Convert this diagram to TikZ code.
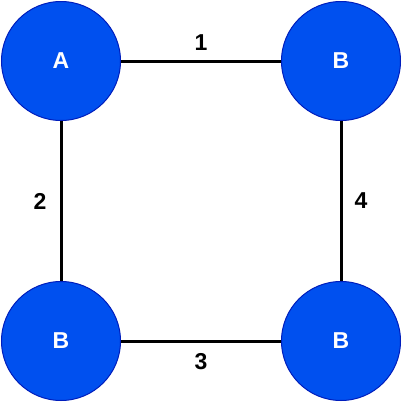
\documentclass[tikz,border=0pt]{standalone}
\usepackage{fontspec}
\setmainfont{Liberation Sans}
\definecolor{nodefill}{HTML}{0050EF}
\definecolor{nodestroke}{HTML}{001DBC}
\begin{document}
\begin{tikzpicture}[x=1pt,y=-1pt,
  vertex/.style={circle,minimum size=119pt,inner sep=0pt,fill=nodefill,draw=nodestroke,line width=1pt,text=white,font=\fontsize{23}{26}\selectfont\bfseries},
  edge/.style={line width=3pt,black},
  elabel/.style={font=\fontsize{23}{26}\selectfont\bfseries,text=black,anchor=center,inner sep=0pt}]
\useasboundingbox (0,0) rectangle (402,402);
\node[vertex] (a) at (61,61) {A};
\node[vertex] (b1) at (341,61) {B};
\node[vertex] (b2) at (61,341) {B};
\node[vertex] (b3) at (341,341) {B};
\draw[edge] (a) -- node[elabel,yshift=18pt] {1} (b1);
\draw[edge] (a) -- node[elabel,xshift=-21pt] {2} (b2);
\draw[edge] (b2) -- node[elabel,yshift=-21pt] {3} (b3);
\draw[edge] (b1) -- node[elabel,xshift=20pt] {4} (b3);
\end{tikzpicture}
\end{document}
